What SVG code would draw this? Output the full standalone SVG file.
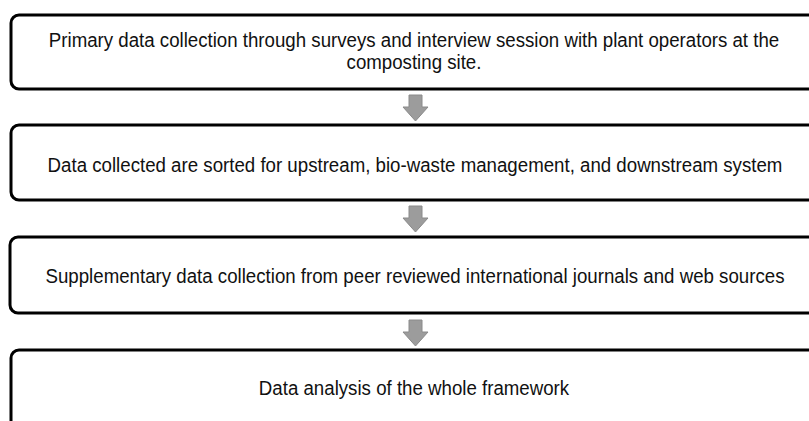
<svg xmlns="http://www.w3.org/2000/svg" width="809" height="421" viewBox="0 0 809 421">
<style>
.box{fill:#fff;stroke:#000;stroke-width:3}
.t{font-family:"Liberation Sans",Arial,sans-serif;font-size:21px;fill:#111;text-anchor:middle}
.t2{font-family:"Liberation Sans",Arial,sans-serif;font-size:19.5px;fill:#111;text-anchor:middle}
.arr{fill:#9c9c9c;stroke:#8a8a8a;stroke-width:1}
</style>
<rect width="809" height="421" fill="#fff"/>
<g id="n1"><rect class="box" x="11" y="15" width="820" height="74" rx="8"/>
<text class="t2" transform="translate(414,47) scale(0.958,1)">Primary data collection through surveys and interview session with plant operators at the</text>
<text class="t2" transform="translate(414,69) scale(0.958,1)">composting site.</text></g>
<g id="n2"><rect class="box" x="11" y="125" width="820" height="75" rx="8"/>
<text class="t" transform="translate(415,172) scale(0.89,1)">Data collected are sorted for upstream, bio-waste management, and downstream system</text></g>
<g id="n3"><rect class="box" x="10" y="237" width="820" height="76" rx="8"/>
<text class="t" transform="translate(415,283) scale(0.89,1)">Supplementary data collection from peer reviewed international journals and web sources</text></g>
<g id="n4"><rect class="box" x="11" y="350" width="820" height="90" rx="8"/>
<text class="t" transform="translate(414,395) scale(0.89,1)">Data analysis of the whole framework</text></g>
<g id="connectors">
<path class="arr" d="M409,95 H422 V107 H428 L415.5,121 L403,107 H409 Z"/>
<path class="arr" d="M409,206 H422 V218 H428 L415.5,232 L403,218 H409 Z"/>
<path class="arr" d="M409,320 H422 V332 H428 L415.5,346 L403,332 H409 Z"/>
</g>
</svg>
